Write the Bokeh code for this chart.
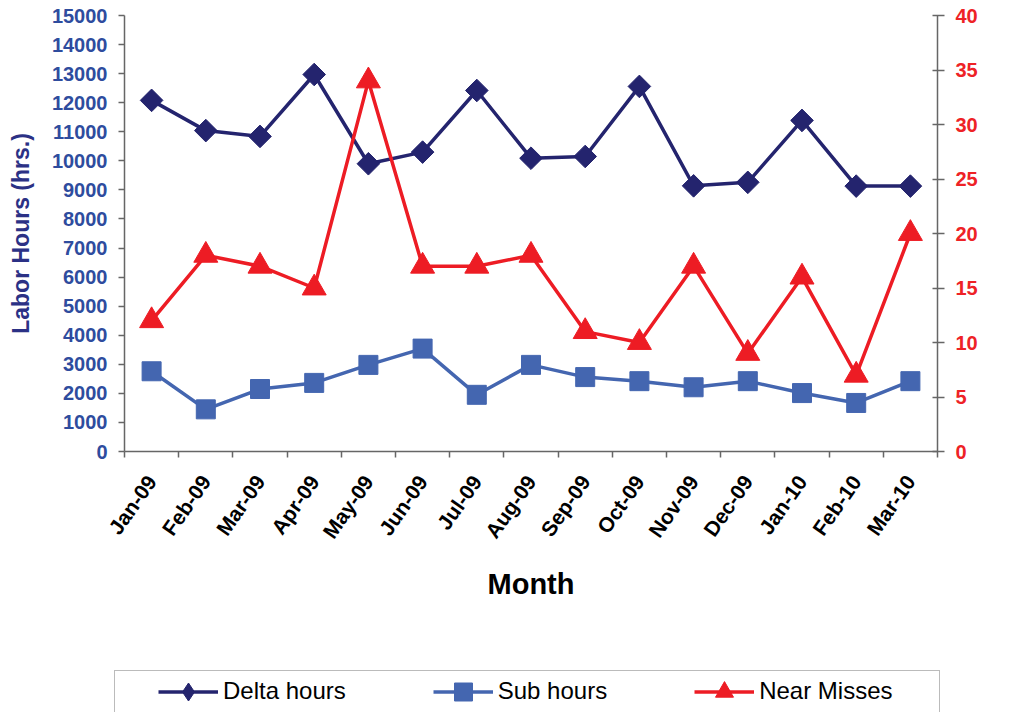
import math
from bokeh.plotting import figure
from bokeh.models import (Range1d, LinearAxis, FixedTicker, CustomJSTickFormatter,
                          Legend, LegendItem, Label)
from bokeh.embed import file_html
from bokeh.resources import INLINE

# ---------------- data ----------------
months = ["Jan-09", "Feb-09", "Mar-09", "Apr-09", "May-09", "Jun-09", "Jul-09",
          "Aug-09", "Sep-09", "Oct-09", "Nov-09", "Dec-09", "Jan-10", "Feb-10", "Mar-10"]
delta_hours = [12080, 11040, 10840, 12970, 9900, 10300, 12420, 10090, 10150,
               12560, 9140, 9260, 11390, 9130, 9130]
sub_hours = [2760, 1450, 2150, 2360, 2980, 3540, 1950, 2980, 2560,
             2420, 2210, 2420, 2010, 1670, 2420]
near_misses = [12, 18, 17, 15, 34, 17, 17, 18, 11, 10, 17, 9, 16, 7, 20]
left_ticks = list(range(0, 15001, 1000))
right_ticks = list(range(0, 41, 5))
series_names = ["Delta hours", "Sub hours", "Near Misses"]

x = list(range(len(months)))

NAVY = "#24246E"
BLUE = "#4466B0"
RED = "#ED1C24"
AXIS = "#666666"
FONT = "Liberation Sans"

p = figure(width=1014, height=660, output_backend="svg", toolbar_location=None,
           x_range=Range1d(-0.5, len(months) - 0.5), y_range=Range1d(0, 15000),
           min_border_left=124, min_border_right=77, min_border_top=15,
           min_border_bottom=209, outline_line_color=None)
p.xgrid.visible = False
p.ygrid.visible = False
p.extra_y_ranges = {"fim": Range1d(0, 40)}

# ---------------- x axis ----------------
xa = p.xaxis[0]
xa.ticker = FixedTicker(ticks=x, minor_ticks=[i - 0.5 for i in range(len(months) + 1)])
xa.formatter = CustomJSTickFormatter(args=dict(labels=months),
                                     code="return labels[Math.round(tick)] || ''")
xa.major_tick_in = 0
xa.major_tick_out = 0
xa.minor_tick_in = 0
xa.minor_tick_out = 6
xa.minor_tick_line_color = AXIS
xa.minor_tick_line_width = 1.5
xa.axis_line_color = AXIS
xa.axis_line_width = 1.5
xa.major_label_orientation = 55 * math.pi / 180
xa.major_label_text_font = FONT
xa.major_label_text_font_size = "21px"
xa.major_label_text_font_style = "bold"
xa.major_label_text_color = "black"
xa.major_label_standoff = 20
xa.axis_label = "Month"
xa.axis_label_text_font = FONT
xa.axis_label_text_font_size = "29px"
xa.axis_label_text_font_style = "bold"
xa.axis_label_text_color = "black"
xa.axis_label_standoff = 16

# ---------------- left axis ----------------
ya = p.yaxis[0]
ya.ticker = FixedTicker(ticks=left_ticks)
ya.major_tick_in = 0
ya.major_tick_out = 6
ya.major_tick_line_color = AXIS
ya.major_tick_line_width = 1.5
ya.axis_line_color = AXIS
ya.axis_line_width = 1.5
ya.major_label_text_font = FONT
ya.major_label_text_font_size = "20px"
ya.major_label_text_font_style = "bold"
ya.major_label_text_color = "#2E4C9E"
ya.major_label_standoff = 11
ya.axis_label = "Labor Hours (hrs.)"
ya.axis_label_text_font = FONT
ya.axis_label_text_font_size = "23px"
ya.axis_label_text_font_style = "bold"
ya.axis_label_text_color = "#2B3185"
ya.axis_label_standoff = 15

# ---------------- right axis ----------------
ra = LinearAxis(y_range_name="fim", ticker=FixedTicker(ticks=right_ticks))
ra.major_tick_in = 5
ra.major_tick_out = 7
ra.major_tick_line_color = AXIS
ra.major_tick_line_width = 1.5
ra.minor_tick_out = 0
ra.minor_tick_in = 0
ra.axis_line_color = AXIS
ra.axis_line_width = 1.5
ra.major_label_text_font = FONT
ra.major_label_text_font_size = "20px"
ra.major_label_text_font_style = "bold"
ra.major_label_text_color = "#EE2226"
ra.major_label_standoff = 11
p.add_layout(ra, "right")

p.add_layout(Label(x=875, y=223, x_units="screen", y_units="screen",
                   text="Number of FIM Reports", angle=math.pi / 2,
                   text_align="center", text_baseline="middle",
                   text_font=FONT, text_font_size="23px", text_font_style="bold",
                   text_color="#F36F21"))

# ---------------- series ----------------
p.line(x, delta_hours, line_color=NAVY, line_width=3.5)
p.scatter(x, delta_hours, marker="square", angle=math.pi / 4, size=16,
          fill_color=NAVY, line_color=NAVY)
p.line(x, sub_hours, line_color=BLUE, line_width=3.5)
p.scatter(x, sub_hours, marker="square", size=19, fill_color=BLUE, line_color=BLUE)
p.line(x, near_misses, y_range_name="fim", line_color=RED, line_width=3.5)
p.scatter(x, near_misses, y_range_name="fim", marker="triangle", size=24,
          fill_color=RED, line_color=RED)

# ---------------- legend strip (separate root so it is neither clipped nor aligned) ----------------
# The strip's ranges keep the (same) series out of view; only their legend samples show.
lg = figure(width=1014, height=52, output_backend="svg", toolbar_location=None,
            x_axis_location=None, y_axis_location=None,
            x_range=Range1d(-100, -99), y_range=Range1d(-100, -99),
            min_border_left=0, min_border_right=0, min_border_top=0,
            min_border_bottom=0, outline_line_color=None)
lg.xgrid.visible = False
lg.ygrid.visible = False

k1a = lg.line(x, delta_hours, line_color=NAVY, line_width=3.5)
k1b = lg.scatter(x, delta_hours, marker="diamond", size=16,
                 fill_color=NAVY, line_color=NAVY)
k2a = lg.line(x, sub_hours, line_color=BLUE, line_width=3.5)
k2b = lg.scatter(x, sub_hours, marker="square", size=19, fill_color=BLUE, line_color=BLUE)
k3a = lg.line(x, near_misses, line_color=RED, line_width=3.5)
k3b = lg.scatter(x, near_misses, marker="triangle", size=24, fill_color=RED, line_color=RED)
blank = lg.line(x, near_misses, line_alpha=0)

box_leg = Legend(items=[LegendItem(label=" ", renderers=[blank])], location=(114, -10),
                 orientation="horizontal", padding=5, margin=0, glyph_width=60,
                 glyph_height=40, label_height=40, label_standoff=5, label_width=749,
                 border_line_color="#777777", border_line_width=1.5,
                 background_fill_color="white", background_fill_alpha=1.0,
                 label_text_alpha=0)
lg.add_layout(box_leg, "center")

items_leg = Legend(items=[LegendItem(label=series_names[0], renderers=[k1a, k1b]),
                          LegendItem(label=series_names[1], renderers=[k2a, k2b]),
                          LegendItem(label=series_names[2], renderers=[k3a, k3b])],
                   location=(158, -1.5), orientation="horizontal", padding=0, margin=0,
                   spacing=87, glyph_width=60, glyph_height=45, label_height=45,
                   label_standoff=5, border_line_color=None, background_fill_alpha=0,
                   label_text_font=FONT, label_text_font_size="24px",
                   label_text_color="black")
lg.add_layout(items_leg, "center")

open("out.html", "w").write(file_html([p, lg], INLINE))
